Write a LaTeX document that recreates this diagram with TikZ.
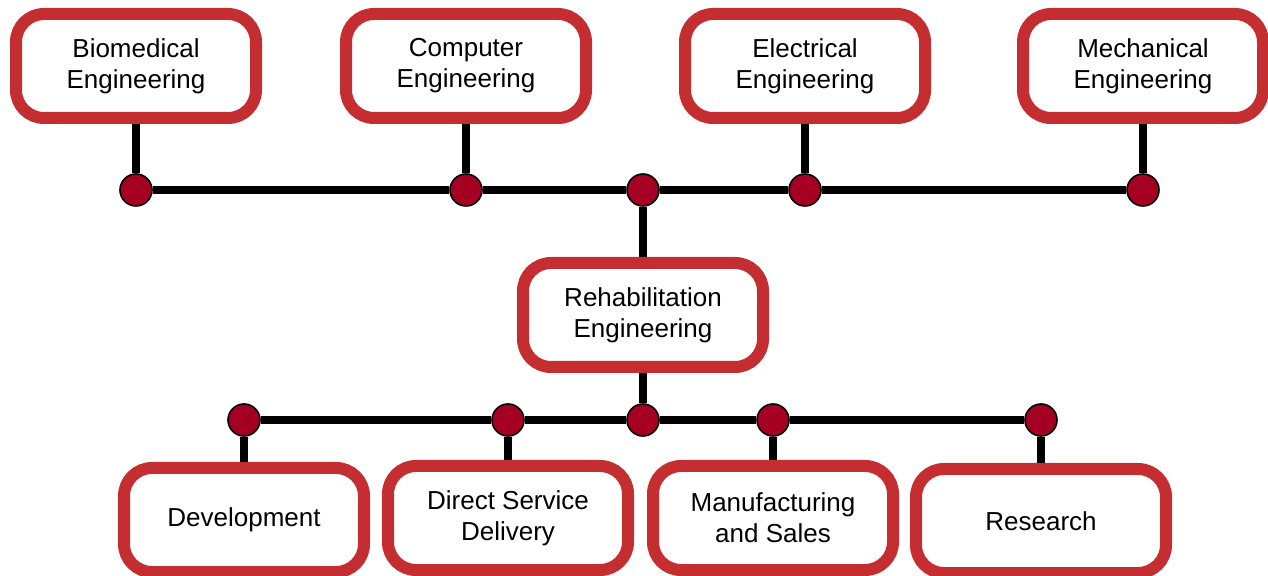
\documentclass[tikz,border=0pt]{standalone}
\usepackage{fontspec}
\setmainfont{Liberation Sans}
\definecolor{boxred}{RGB}{196,46,48}
\definecolor{dotred}{RGB}{165,0,33}
\tikzset{
	box/.style={draw=boxred, line width=6pt, rounded corners=14pt, fill=white,
		minimum width=120pt, minimum height=52pt, align=center,
		font=\fontsize{13}{15.5}\selectfont},
	dot/.style={circle, draw=black, line width=0.8pt, fill=dotred,
		minimum size=16pt, inner sep=0pt},
	link/.style={line width=4pt}
}
\begin{document}
\begin{tikzpicture}[x=0.5pt, y=-0.5pt]

	\useasboundingbox (0,0) rectangle (1268,576);

	\node[box] (bio)  at (136, 66)  {Biomedical\\Engineering};
	\node[box] (comp) at (466, 66)  {Computer\\Engineering};
	\node[box] (elec) at (805, 66)  {Electrical\\Engineering};
	\node[box] (mech) at (1143, 66) {Mechanical\\Engineering};

	\node[box] (rehab) at (643, 315) {Rehabilitation\\Engineering};

	\node[box] (dev)  at (244, 520)  {Development};
	\node[box] (dsd)  at (508, 518)  {Direct Service\\Delivery};
	\node[box] (man)  at (773, 518)  {Manufacturing\\and Sales};
	\node[box, minimum width=125pt] (res) at (1041, 521) {Research};

	\node[dot] (t1) at (136, 190)  {};
	\node[dot] (t2) at (466, 190)  {};
	\node[dot] (t3) at (643, 190)  {};
	\node[dot] (t4) at (805, 190)  {};
	\node[dot] (t5) at (1143, 190) {};

	\node[dot] (b1) at (244, 420)  {};
	\node[dot] (b2) at (508, 420)  {};
	\node[dot] (b3) at (643, 420)  {};
	\node[dot] (b4) at (773, 420)  {};
	\node[dot] (b5) at (1041, 420) {};

	\draw[link] (t1)--(t2)--(t3)--(t4)--(t5);
	\draw[link] (b1)--(b2)--(b3)--(b4)--(b5);

	\draw[link] (bio)--(t1);
	\draw[link] (comp)--(t2);
	\draw[link] (elec)--(t4);
	\draw[link] (mech)--(t5);
	\draw[link] (t3)--(rehab);
	\draw[link] (rehab)--(b3);

	\draw[link] (b1)--(dev);
	\draw[link] (b2)--(dsd);
	\draw[link] (b4)--(man);
	\draw[link] (b5)--(res);

\end{tikzpicture}
\end{document}
